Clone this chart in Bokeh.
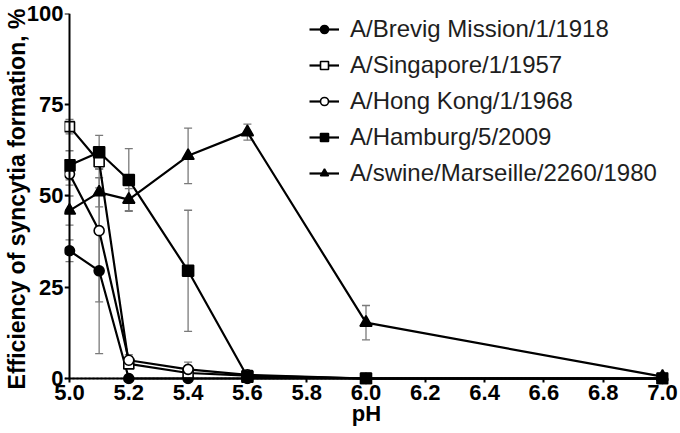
from bokeh.plotting import figure
from bokeh.models import (ColumnDataSource, Whisker, TeeHead, Span, FixedTicker,
                          Legend, LinearAxis)
from bokeh.embed import file_html
from bokeh.resources import INLINE

ph = [5.0, 5.1, 5.2, 5.4, 5.6, 6.0, 7.0]

names = ["A/Brevig Mission/1/1918", "A/Singapore/1/1957", "A/Hong Kong/1/1968",
         "A/Hamburg/5/2009", "A/swine/Marseille/2260/1980"]

brevig = [35.0, 29.5, 0.0, 0.0, 0.0, 0.0, 0.0]
brevig_sd = [3.0, 22.7, 0.0, 0.0, 0.0, 0.0, 0.0]
singapore = [69.0, 59.4, 4.0, 1.5, 0.8, 0.0, 0.0]
singapore_sd = [2.0, 2.0, 1.0, 1.0, 0.5, 0.0, 0.0]
hongkong = [56.0, 40.5, 5.0, 2.5, 1.0, 0.0, 0.0]
hongkong_sd = [3.0, 19.5, 1.5, 2.0, 0.5, 0.0, 0.0]
hamburg = [58.4, 62.0, 54.4, 29.5, 0.5, 0.0, 0.0]
hamburg_sd = [4.0, 4.6, 8.6, 16.6, 0.5, 0.0, 0.0]
swine = [46.0, 51.0, 49.0, 61.0, 67.5, 15.3, 0.5]
swine_sd = [4.0, 4.0, 3.0, 7.6, 2.2, 4.7, 0.5]

x_ticks = [5.0, 5.2, 5.4, 5.6, 5.8, 6.0, 6.2, 6.4, 6.6, 6.8, 7.0]
x_tick_labels = ["5.0", "5.2", "5.4", "5.6", "5.8", "6.0", "6.2", "6.4", "6.6", "6.8", "7.0"]
y_ticks = [0, 25, 50, 75, 100]
x_title = "pH"
y_title = "Efficiency of syncytia formation, %"

FONT = "Liberation Sans"

# ranges padded slightly so that edge markers are not clipped
p = figure(output_backend="svg", toolbar_location=None,
           x_range=(4.98314, 7.02024), y_range=(-1.644, 100),
           frame_width=604, frame_height=371,
           min_border_left=64, min_border_right=12, min_border_top=13, min_border_bottom=49)
p.outline_line_color = None
p.grid.grid_line_color = None
p.background_fill_color = "white"

xlab = p.below[0]
ylab = p.left[0]
xlab.ticker = FixedTicker(ticks=x_ticks)
xlab.major_label_overrides = {t: l for t, l in zip(x_ticks, x_tick_labels)}
ylab.ticker = FixedTicker(ticks=y_ticks)

# label-only axes at the frame edges
for ax in (xlab, ylab):
    ax.axis_line_color = None
    ax.major_tick_line_color = None
    ax.minor_tick_line_color = None
    ax.major_tick_in = 0
    ax.major_tick_out = 0
    ax.minor_tick_in = 0
    ax.minor_tick_out = 0
    ax.major_label_text_font = FONT
    ax.major_label_text_font_style = "bold"
    ax.major_label_text_font_size = "22px"
    ax.major_label_text_color = "black"
    ax.axis_label_text_font = FONT
    ax.axis_label_text_font_style = "bold"
    ax.axis_label_text_font_size = "22px"
    ax.axis_label_text_color = "black"

xlab.axis_label = x_title
xlab.major_label_standoff = 0
xlab.axis_label_standoff = -2
ylab.axis_label = y_title
ylab.axis_label_text_font_size = "23px"
ylab.major_label_standoff = 1
ylab.axis_label_standoff = -6

# axis lines and ticks pinned at pH 5.0 and 0 %
def line_axis(ticks, loc, bounds, tick_len):
    return LinearAxis(ticker=FixedTicker(ticks=ticks), fixed_location=loc, bounds=bounds,
                      axis_line_width=2, axis_line_color="black",
                      major_tick_line_width=2, major_tick_line_color="black",
                      major_tick_in=0, major_tick_out=tick_len,
                      minor_tick_line_color=None, minor_tick_in=0, minor_tick_out=0,
                      major_label_standoff=0, major_label_text_font_size="0px",
                      major_label_text_alpha=0)

yfix = line_axis(y_ticks, 5.0, (0, 100), 5)
xfix = line_axis(x_ticks, 0, (5.0, 7.0), 4)
p.left = [yfix] + list(p.left)
p.below = [xfix] + list(p.below)

p.add_layout(Span(location=0, dimension="width", line_color="black",
                  line_dash="2 2", line_width=1.5))

series = [
    (brevig, brevig_sd, "circle", "black", 10),
    (singapore, singapore_sd, "square", "white", 10),
    (hongkong, hongkong_sd, "circle", "white", 10),
    (hamburg, hamburg_sd, "square", "black", 11),
    (swine, swine_sd, "triangle", "black", 12),
]

# error bars first
for vals, sd, _, _, _ in series:
    src = ColumnDataSource(dict(x=ph, lo=[v - s for v, s in zip(vals, sd)],
                                hi=[v + s for v, s in zip(vals, sd)]))
    w = Whisker(base="x", lower="lo", upper="hi", source=src,
                line_color="#7a7a7a", line_width=1.3,
                upper_head=TeeHead(size=8, line_color="#7a7a7a", line_width=1.3),
                lower_head=TeeHead(size=8, line_color="#7a7a7a", line_width=1.3))
    p.add_layout(w)

legend_items = []
for (vals, sd, marker, fill, size), name in zip(series, names):
    src = ColumnDataSource(dict(x=ph, y=vals))
    l = p.line("x", "y", source=src, line_color="black", line_width=2.2)
    m = p.scatter("x", "y", source=src, marker=marker, size=size,
                  fill_color=fill, line_color="black", line_width=1.6)
    legend_items.append((name, [l, m]))

legend = Legend(items=legend_items, location=(245, 197))
legend.label_text_font = FONT
legend.label_text_font_size = "24px"
legend.label_text_color = "#1e1e1e"
legend.glyph_width = 30
legend.glyph_height = 20
legend.label_height = 20
legend.spacing = 8
legend.label_standoff = 11
legend.padding = 0
legend.margin = 0
legend.border_line_color = None
legend.background_fill_alpha = 0
p.add_layout(legend)

open("out.html", "w").write(file_html(p, INLINE))
